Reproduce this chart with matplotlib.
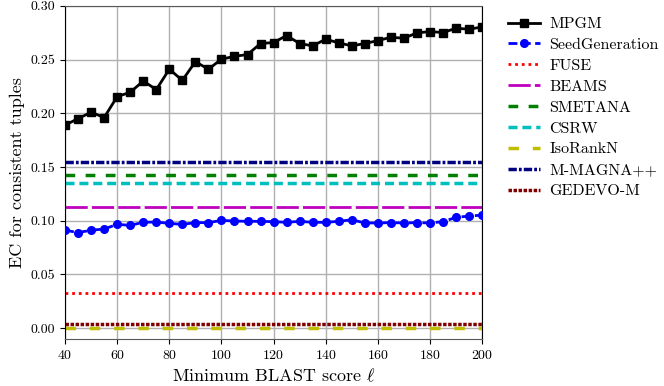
import numpy as np
import matplotlib
matplotlib.use('Agg')
import matplotlib.pyplot as plt

plt.rcParams['font.family'] = 'serif'
plt.rcParams['font.serif'] = ['cmr10', 'DejaVu Serif']
plt.rcParams['mathtext.fontset'] = 'cm'
plt.rcParams['axes.formatter.use_mathtext'] = True
plt.rcParams['font.size'] = 10

# minimum BLAST score
scores = list(range(40, 201, 5))

mpgm = [0.189, 0.195, 0.201, 0.196, 0.2155, 0.2195, 0.230, 0.222, 0.241, 0.2306,
        0.248, 0.241, 0.2503, 0.253, 0.2546, 0.2649, 0.2658, 0.2723, 0.2649, 0.2627,
        0.2689, 0.2655, 0.2627, 0.2649, 0.2676, 0.2707, 0.2698, 0.2748, 0.276, 0.2751,
        0.2791, 0.2782, 0.2803]

seed_gen = [0.0911, 0.0890, 0.0911, 0.0923, 0.0966, 0.0957, 0.0985, 0.0988, 0.0975, 0.0966,
            0.0982, 0.0982, 0.1003, 0.0997, 0.0994, 0.0994, 0.0991, 0.0985, 0.0994, 0.0985,
            0.0985, 0.0994, 0.1009, 0.0979, 0.0979, 0.0982, 0.0979, 0.0982, 0.0979, 0.0991,
            0.1031, 0.1043, 0.1052]

# constant baselines
fuse = 0.033
beams = 0.113
smetana = 0.1425
csrw = 0.135
isorankn = 0.0
mmagna = 0.155
gedevo = 0.004

fig = plt.figure(figsize=(6.64, 3.86), dpi=100)
ax = fig.add_axes([0.098, 0.122, 0.628, 0.863])

ax.plot(scores, mpgm, color='black', marker='s', markersize=6, linewidth=2, label='MPGM', zorder=5)
ax.plot(scores, seed_gen, color='blue', marker='o', markersize=5.5, linewidth=2,
        linestyle=(0, (3.2, 1.6)), label='SeedGeneration', zorder=5)

n = len(scores)
ax.plot(scores, [fuse] * n, color='red', linestyle=(0, (1, 1.4)), linewidth=2, label='FUSE')
ax.plot(scores, [beams] * n, color='m', linestyle=(0, (8, 1.5)), linewidth=2, label='BEAMS')
ax.plot(scores, [smetana] * n, color='g', linestyle=(0, (2.8, 3.0)), linewidth=2.5, label='SMETANA')
ax.plot(scores, [csrw] * n, color='c', linestyle=(0, (2.6, 1.4)), linewidth=2.5, label='CSRW')
ax.plot(scores, [isorankn] * n, color='y', linestyle=(0, (3, 4)), linewidth=2.5, label='IsoRankN')
ax.plot(scores, [mmagna] * n, color='navy', linestyle=(0, (2.4, 0.6, 0.8, 0.6)), linewidth=2.5, label='M-MAGNA++')
ax.plot(scores, [gedevo] * n, color='maroon', linestyle=(0, (1, 0.45)), linewidth=2.5, label='GEDEVO-M')

ax.set_xlim(40, 200)
ax.set_ylim(-0.01, 0.30)
ax.set_xticks(range(40, 201, 20))
ax.set_yticks(np.arange(0, 0.31, 0.05))
ax.yaxis.set_major_formatter(matplotlib.ticker.FormatStrFormatter('%.2f'))
ax.grid(True, color='#b0b0b0', linewidth=1)
ax.set_axisbelow(True)
for s in ['top', 'bottom']:
    ax.spines[s].set_color('0.35')

ax.set_xlabel(r'Minimum BLAST score $\ell$', fontsize=13)
ax.set_ylabel('EC for consistent tuples', fontsize=13)

ax.legend(loc='upper left', bbox_to_anchor=(1.035, 1.0), frameon=False, fontsize=11.5,
          handlelength=2.0, handletextpad=0.6, labelspacing=0.42, borderaxespad=0.3)

fig.savefig('out.png', dpi=100)
